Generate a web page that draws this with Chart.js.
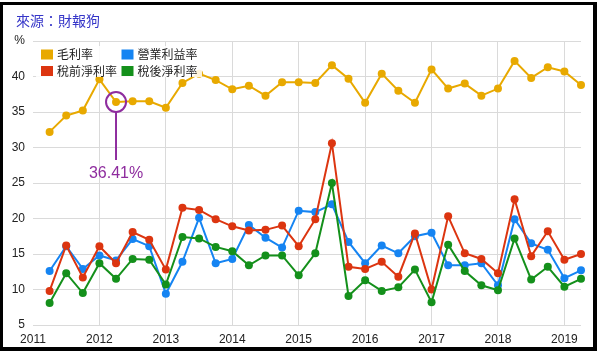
<!DOCTYPE html>
<html>
<head>
<meta charset="utf-8">
<script src="https://cdn.jsdelivr.net/npm/chart.js@4.4.0/dist/chart.umd.min.js"></script>
<style>
  html, body { margin: 0; padding: 0; background: #fff; }
  #wrap { position: relative; width: 600px; height: 354px; overflow: hidden; }
  #title { position: absolute; left: 16px; top: 13px; font: 14px/14px "Noto Sans CJK TC", sans-serif; color: #3535c8; }
  #frame { position: absolute; left: 0; top: 2px; width: 597px; height: 349px; box-sizing: border-box;
           border: solid #000; border-width: 3px 4px 4px 3px; pointer-events: none; }
  canvas { position: absolute; left: 0; top: 0; }
</style>
</head>
<body>
<div id="wrap">
  <canvas id="marginChart" width="600" height="354"></canvas>
  <div id="title">來源：財報狗</div>
  <div id="frame"></div>
</div>
<script>
// quarterly margins, %
var quarters = ["2011Q1", "2011Q2", "2011Q3", "2011Q4", "2012Q1", "2012Q2", "2012Q3", "2012Q4",
    "2013Q1", "2013Q2", "2013Q3", "2013Q4", "2014Q1", "2014Q2", "2014Q3", "2014Q4",
    "2015Q1", "2015Q2", "2015Q3", "2015Q4", "2016Q1", "2016Q2", "2016Q3", "2016Q4",
    "2017Q1", "2017Q2", "2017Q3", "2017Q4", "2018Q1", "2018Q2", "2018Q3", "2018Q4", "2019Q1"];
var grossMargin = [32.2, 34.5, 35.2, 39.6, 36.41, 36.5, 36.5, 35.6, 39.1, 40.4, 39.5, 38.2, 38.7, 37.3, 39.2, 39.2,
    39.1, 41.6, 39.7, 36.3, 40.4, 38.0, 36.3, 41.0, 38.3, 39.0, 37.3, 38.3, 42.2, 39.8, 41.3, 40.7, 38.8];
var operatingMargin = [12.6, 16.1, 12.9, 14.8, 14.1, 17.1, 16.1, 9.4, 13.9, 20.1, 13.7, 14.3, 19.1, 17.3, 15.9, 21.1,
    20.9, 22.0, 16.7, 13.7, 16.2, 15.1, 17.5, 18.0, 13.4, 13.4, 13.7, 10.6, 19.9, 16.5, 15.6, 11.6, 12.7];
var preTaxMargin = [9.8, 16.2, 11.7, 16.1, 13.7, 18.1, 17.0, 12.8, 21.5, 21.2, 19.9, 18.9, 18.3, 18.4, 19.0, 16.1,
    19.9, 30.6, 13.2, 12.9, 13.9, 11.8, 17.9, 10.0, 20.3, 15.1, 14.3, 12.3, 22.7, 14.7, 18.2, 14.2, 15.0];
var afterTaxMargin = [8.1, 12.3, 9.5, 13.7, 11.5, 14.3, 14.2, 10.7, 17.4, 17.2, 16.0, 15.4, 13.4, 14.8, 14.8, 12.0,
    15.1, 25.0, 9.1, 11.3, 9.8, 10.3, 12.8, 8.2, 16.3, 12.6, 10.6, 9.9, 17.2, 11.4, 13.2, 10.4, 11.5];
var seriesNames = ["毛利率", "營業利益率", "稅前淨利率", "稅後淨利率"];
var highlightIndex = 4;

Chart.defaults.font.family = 'Arial, "Liberation Sans", sans-serif';

// quarter end as a fractional year: 2011Q1 -> 2011.25
function toPoints(values) {
    return values.map(function (v, i) {
        var parts = quarters[i].split("Q");
        return { x: Number(parts[0]) + Number(parts[1]) / 4, y: v };
    });
}

function series(label, values, color, order) {
    return {
        label: label,
        data: toPoints(values),
        borderColor: color,
        backgroundColor: color,
        pointBackgroundColor: color,
        order: order,
        clip: false
    };
}

// two-column legend sitting inside the plot
var boxLegend = {
    id: 'boxLegend',
    afterDatasetsDraw: function (chart) {
        var ctx = chart.ctx;
        ctx.save();
        ctx.fillStyle = 'rgba(255,255,255,0.85)';
        ctx.fillRect(36, 46, 166, 31);
        ctx.font = '12px "Noto Sans CJK TC", sans-serif';
        ctx.textBaseline = 'middle';
        chart.data.datasets.forEach(function (ds, i) {
            var x = 41 + (i % 2) * 80.5;
            var y = 49.5 + Math.floor(i / 2) * 16.5;
            ctx.fillStyle = ds.borderColor;
            ctx.fillRect(x, y, 12, 10);
            ctx.fillStyle = '#222';
            ctx.fillText(ds.label, x + 16, y + 5);
        });
        ctx.restore();
    }
};

// circled point with value callout
var highlight = {
    id: 'highlight',
    afterDatasetsDraw: function (chart) {
        var pt = chart.getDatasetMeta(0).data[highlightIndex];
        var ctx = chart.ctx;
        ctx.save();
        ctx.strokeStyle = '#8e2c9e';
        ctx.lineWidth = 2;
        ctx.beginPath();
        ctx.arc(pt.x, pt.y, 10, 0, Math.PI * 2);
        ctx.stroke();
        ctx.beginPath();
        ctx.moveTo(pt.x, pt.y + 10);
        ctx.lineTo(pt.x, 160);
        ctx.stroke();
        ctx.fillStyle = '#8e2c9e';
        ctx.font = '16px Arial, "Liberation Sans", sans-serif';
        ctx.textAlign = 'center';
        ctx.textBaseline = 'middle';
        ctx.fillText(grossMargin[highlightIndex].toFixed(2) + '%', pt.x, 174);
        ctx.restore();
    }
};

var ctxM = document.getElementById("marginChart").getContext('2d');
var marginChart = new Chart(ctxM, {
    type: 'line',
    data: {
        datasets: [
            series(seriesNames[0], grossMargin, '#e8a900', 3),
            series(seriesNames[1], operatingMargin, '#1584f2', 2),
            series(seriesNames[2], preTaxMargin, '#dc3510', 1),
            series(seriesNames[3], afterTaxMargin, '#14901b', 0)
        ]
    },
    options: {
        responsive: false,
        animation: false,
        layout: { padding: { top: 41, right: 19, bottom: 0, left: 0 } },
        plugins: {
            legend: { display: false },
            tooltip: { enabled: false }
        },
        elements: {
            line: { borderWidth: 2, tension: 0 },
            point: { radius: 4, borderWidth: 0 }
        },
        scales: {
            x: {
                type: 'linear',
                min: 2011,
                max: 2019.25,
                border: { display: false },
                grid: {
                    drawTicks: false,
                    color: function (c) { return c.tick && c.tick.value === 2011 ? 'rgba(0,0,0,0)' : '#dadada'; }
                },
                ticks: {
                    stepSize: 1,
                    includeBounds: false,
                    autoSkip: false,
                    maxRotation: 0,
                    padding: 7,
                    color: '#222',
                    font: { size: 12 },
                    callback: function (v) { return String(v); }
                },
                afterFit: function (s) { s.height = 29; }
            },
            y: {
                min: 5,
                max: 45,
                border: { display: false },
                grid: { drawTicks: false, color: '#dadada' },
                ticks: {
                    stepSize: 5,
                    padding: 8,
                    color: '#222',
                    font: { size: 12 },
                    callback: function (v) { return v === 45 ? '%' : v; }
                },
                afterFit: function (s) { s.width = 33; }
            }
        }
    },
    plugins: [boxLegend, highlight]
});
</script>
</body>
</html>
